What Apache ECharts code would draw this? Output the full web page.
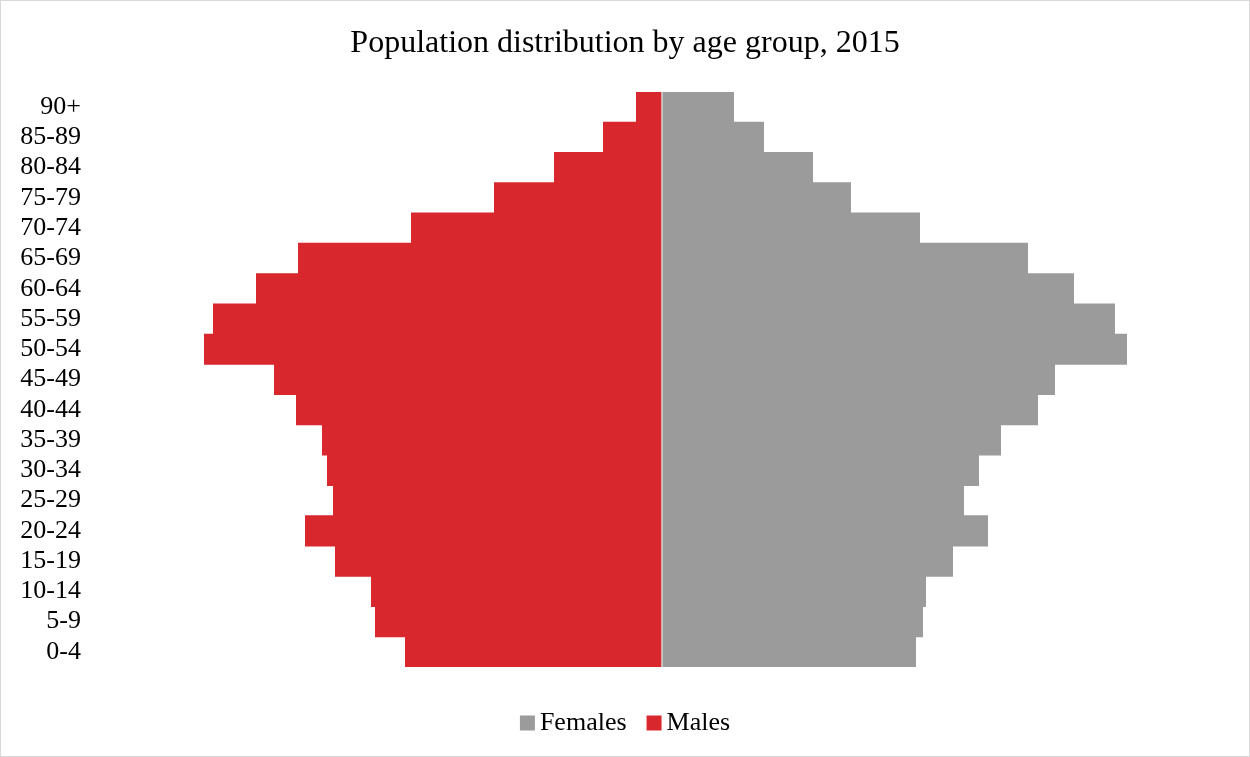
<!DOCTYPE html>
<html>
<head>
<meta charset="utf-8">
<script src="https://cdn.jsdelivr.net/npm/echarts@6/dist/echarts.min.js"></script>
<style>
  html, body { margin: 0; padding: 0; background: #fff; }
  #chart { width: 1248px; height: 755px; border: 1px solid #d9d9d9; }
</style>
</head>
<body>
<div id="chart"></div>
<script>
    "use strict";

    // age groups, bottom to top
    const ageGroups = ["0-4", "5-9", "10-14", "15-19", "20-24", "25-29", "30-34", "35-39", "40-44",
        "45-49", "50-54", "55-59", "60-64", "65-69", "70-74", "75-79", "80-84", "85-89", "90+"];

    const males = [257, 287, 291, 327, 357, 329, 335, 340, 366,
        388, 458, 449, 406, 364, 251, 168, 108, 59, 26];

    const females = [254, 261, 264, 291, 326, 302, 317, 339, 376,
        393, 465, 453, 412, 366, 258, 189, 151, 102, 72];

    const FONT = "'Liberation Serif', 'Times New Roman', serif";
    const RED = "#d9272e", GREY = "#9b9b9b";

    const chart = echarts.init(document.getElementById("chart"));
    chart.setOption({
        animation: false,
        title: {
            text: "Population distribution by age group, 2015",
            left: "center", top: 22,
            textStyle: { fontFamily: FONT, fontSize: 32, fontWeight: "normal", color: "#000" }
        },
        legend: {
            bottom: 15, left: "center",
            icon: "rect", itemWidth: 15, itemHeight: 15, itemGap: 20,
            data: ["Females", "Males"],
            textStyle: { fontFamily: FONT, fontSize: 26, color: "#000" }
        },
        grid: { left: 181, right: 107, top: 91, bottom: 89 },
        xAxis: {
            type: "value", min: -480, max: 480, show: false
        },
        yAxis: {
            type: "category", data: ageGroups,
            axisLine: { show: false }, axisTick: { show: false },
            axisLabel: { interval: 0, fontFamily: FONT, fontSize: 26, color: "#000", margin: 101 }
        },
        series: [
            {
                name: "Females", type: "bar", stack: "pop", barCategoryGap: 0, barWidth: "103%",
                data: females,
                itemStyle: { color: GREY },
                markLine: {
                    silent: true, symbol: "none", label: { show: false },
                    lineStyle: { color: "#d6d6d6", width: 1.5, type: "solid" },
                    data: [{ xAxis: 0 }]
                }
            },
            {
                name: "Males", type: "bar", stack: "pop", barCategoryGap: 0, barWidth: "103%",
                data: males.map(v => -v),
                itemStyle: { color: RED }
            }
        ]
    });
</script>
</body>
</html>
